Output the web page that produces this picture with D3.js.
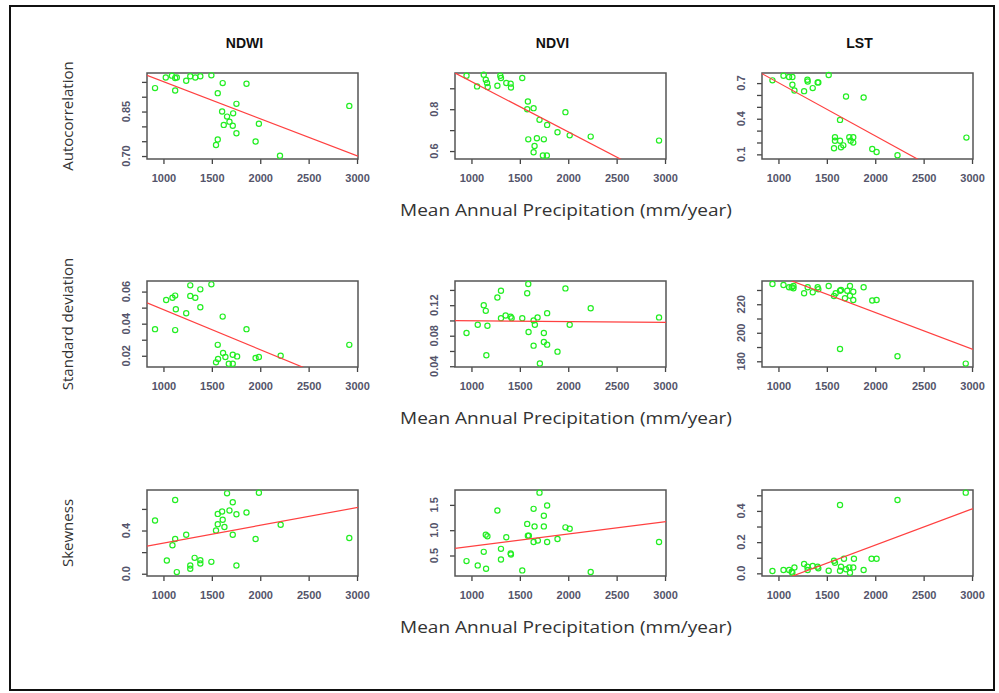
<!DOCTYPE html>
<html>
<head>
<meta charset="utf-8">
<script src="https://cdn.jsdelivr.net/npm/d3@7"></script>
<style>
  body { margin: 0; background: #fff; }
</style>
</head>
<body>
<script>
// * Data (precipitation mm/year, statistic)

const columns = ["NDWI", "NDVI", "LST"];
const rowLabels = ["Autocorrelation", "Standard deviation", "Skewness"];
const xTicks = [1000, 1500, 2000, 2500, 3000];

const ndwiAuto = [[913,0.929],[1024,0.965],[1087,0.971],[1121,0.963],[1138,0.965],[1121,0.921],[1235,0.954],[1277,0.969],[1329,0.965],[1381,0.969],[1495,0.972],[1612,0.946],[1561,0.912],[1858,0.944],[1754,0.876],[1606,0.850],[1657,0.833],[1720,0.844],[1682,0.816],[1623,0.805],[1716,0.802],[1986,0.809],[1754,0.777],[1561,0.756],[1543,0.737],[1952,0.749],[2204,0.701],[2920,0.869]];
const ndviAuto = [[949,0.96],[1058,0.909],[1127,0.965],[1148,0.941],[1161,0.925],[1168,0.906],[1268,0.912],[1298,0.96],[1305,0.949],[1360,0.925],[1405,0.922],[1408,0.904],[1525,0.949],[1583,0.837],[1576,0.80],[1642,0.805],[1703,0.749],[1782,0.725],[1971,0.786],[1889,0.69],[2015,0.675],[2232,0.669],[2938,0.65],[1587,0.656],[1676,0.661],[1748,0.656],[1652,0.624],[1642,0.594],[1738,0.579],[1779,0.579]];
const lstAuto = [[938,0.723],[1052,0.762],[1110,0.751],[1144,0.751],[1144,0.686],[1165,0.638],[1265,0.632],[1299,0.728],[1302,0.714],[1354,0.658],[1405,0.706],[1412,0.706],[1519,0.768],[1698,0.587],[1880,0.579],[1636,0.39],[1584,0.244],[1584,0.215],[1636,0.215],[1574,0.151],[1646,0.159],[1670,0.176],[1732,0.244],[1773,0.244],[1746,0.215],[1773,0.199],[1969,0.145],[2014,0.12],[2230,0.092],[2942,0.241]];

const ndwiSd = [[913,0.0366],[1028,0.0548],[1093,0.0562],[1121,0.0575],[1128,0.049],[1121,0.036],[1235,0.0465],[1277,0.0639],[1277,0.0573],[1329,0.0562],[1381,0.0614],[1381,0.0502],[1495,0.0645],[1612,0.0444],[1858,0.0366],[1561,0.0268],[1616,0.0217],[1640,0.0192],[1564,0.018],[1543,0.0159],[1675,0.015],[1716,0.015],[1716,0.0206],[1761,0.0196],[1952,0.0186],[1986,0.0192],[2211,0.020],[2920,0.0268]];
const ndviSd = [[949,0.0835],[1065,0.0943],[1127,0.120],[1148,0.1126],[1165,0.093],[1154,0.0543],[1268,0.130],[1305,0.139],[1305,0.103],[1353,0.1065],[1405,0.105],[1415,0.103],[1525,0.103],[1576,0.1357],[1587,0.1478],[1590,0.0848],[1642,0.100],[1655,0.0943],[1683,0.104],[1642,0.067],[1707,0.0435],[1748,0.0835],[1748,0.0717],[1782,0.0683],[1782,0.1096],[1889,0.0591],[1971,0.142],[2015,0.0943],[2232,0.116],[2938,0.104]];
const lstSd = [[938,234.2],[1052,233.5],[1110,231.9],[1137,231.9],[1155,232.8],[1155,231.2],[1265,227.7],[1302,231.9],[1354,228.4],[1405,231.9],[1412,230.5],[1519,232.8],[1574,225.8],[1591,227.7],[1636,229.5],[1646,230.0],[1687,224.2],[1711,229.5],[1739,232.8],[1739,226.0],[1773,228.8],[1773,223.0],[1880,231.9],[1969,222.6],[2014,223.0],[1636,188.6],[2230,183.5],[2935,178.4]];

const ndwiSkew = [[913,0.493],[1035,0.1225],[1093,0.263],[1121,0.322],[1121,0.683],[1138,0.0153],[1235,0.361],[1277,0.0766],[1277,0.046],[1322,0.147],[1381,0.1256],[1381,0.095],[1495,0.110],[1543,0.401],[1561,0.554],[1561,0.459],[1606,0.576],[1612,0.499],[1630,0.432],[1657,0.744],[1682,0.585],[1716,0.661],[1716,0.361],[1754,0.551],[1754,0.0766],[1858,0.567],[1952,0.322],[1986,0.750],[2211,0.453],[2920,0.331]];
const ndviSkew = [[949,0.389],[1065,0.304],[1127,0.572],[1148,0.912],[1165,0.879],[1151,0.239],[1268,1.389],[1305,0.631],[1305,0.422],[1360,0.86],[1405,0.539],[1408,0.52],[1525,0.206],[1576,1.124],[1583,0.892],[1593,0.892],[1642,1.422],[1652,1.075],[1642,0.768],[1686,0.794],[1703,1.742],[1748,1.284],[1748,1.075],[1782,1.487],[1782,0.768],[1889,0.827],[1971,1.056],[2015,1.029],[2232,0.173],[2938,0.768]];
const lstSkew = [[938,0.015],[1052,0.021],[1110,0.021],[1137,0.011],[1144,0.004],[1165,0.038],[1265,0.060],[1299,0.043],[1302,0.021],[1354,0.047],[1405,0.043],[1412,0.032],[1519,0.017],[1574,0.081],[1584,0.068],[1636,0.438],[1646,0.043],[1636,0.017],[1677,0.094],[1698,0.026],[1732,0.038],[1739,0.004],[1773,0.038],[1780,0.094],[1880,0.021],[1962,0.094],[2014,0.094],[2230,0.470],[2935,0.517]];

// fitted lines: [intercept, slope]
const fits = [
	[1.076, -1.2506e-4], [1.173, -2.407e-4], [1.151, -4.476e-4],
	[0.0736, -2.489e-5], [0.1005, -1.02e-6], [265.5, -0.02564],
	[0.1198, 1.642e-4], [0.441, 2.42e-4], [-0.283, 2.32e-4]
];

// y domain, tick positions, labelled ticks for each panel
const yDomains = [[0.690,0.980],[0.562,0.973],[0.061,0.785],[0.013,0.0666],[0.039,0.1517],[176.0,236.3],[-0.021,0.775],[0.095,1.794],[-0.017,0.534]];
const yTicks = [
	[0.70,0.75,0.80,0.85,0.90,0.95], [0.6,0.7,0.8,0.9], [0.1,0.2,0.3,0.4,0.5,0.6,0.7],
	[0.02,0.03,0.04,0.05,0.06], [0.04,0.06,0.08,0.10,0.12,0.14], [180,190,200,210,220,230],
	[0.0,0.2,0.4,0.6], [0.5,1.0,1.5], [0.0,0.1,0.2,0.3,0.4,0.5]
];
const yLabels = [
	["0.70","0.85"], ["0.6","0.8"], ["0.1","0.4","0.7"],
	["0.02","0.04","0.06"], ["0.04","0.08","0.12"], ["180","200","220"],
	["0.0","0.4"], ["0.5","1.0","1.5"], ["0.0","0.2","0.4"]
];

const panelData = [ndwiAuto, ndviAuto, lstAuto, ndwiSd, ndviSd, lstSd, ndwiSkew, ndviSkew, lstSkew];

// * Size & layout

let width = 999;
let height = 693;
const colLeft = [147, 455, 762];
const rowTop = [73, 281, 490];
const boxW = 211;
const boxH = 86;

var svg = d3
	.select("body")
	.append("svg")
	.attr("width", width)
	.attr("height", height);

svg.append("rect")
	.attr("x", 10).attr("y", 6)
	.attr("width", 984).attr("height", 684)
	.attr("fill", "#fff")
	.attr("stroke", "#111")
	.attr("stroke-width", 2);

// * Column titles
svg.selectAll(".coltitle")
	.data(columns)
	.join("text")
	.attr("x", (d, i) => colLeft[i] + boxW / 2 - 8)
	.attr("y", 48)
	.attr("text-anchor", "middle")
	.attr("font-family", "'Liberation Sans Narrow', 'Liberation Sans', sans-serif")
	.attr("font-weight", "bold")
	.attr("font-size", "14px")
	.attr("fill", "#111")
	.text((d) => d);

// * Row labels & x titles
rowLabels.forEach((lab, r) => {
	const cy = rowTop[r] + boxH / 2;
	svg.append("text")
		.attr("transform", `translate(73,${cy}) rotate(-90)`)
		.attr("text-anchor", "middle")
		.attr("font-family", "'Open Sans', sans-serif")
		.attr("font-size", "15px")
		.attr("fill", "#333")
		.text(lab);

	svg.append("text")
		.attr("x", 566)
		.attr("y", rowTop[r] + boxH + 57)
		.attr("text-anchor", "middle")
		.attr("font-family", "'Open Sans', sans-serif")
		.attr("font-size", "17px")
		.attr("textLength", 332)
		.attr("lengthAdjust", "spacingAndGlyphs")
		.attr("fill", "#333")
		.text("Mean Annual Precipitation (mm/year)");
});

// * PLOT each panel
panelData.forEach((pts, k) => {
	const r = Math.floor(k / 3);
	const c = k % 3;
	const x0 = colLeft[c];
	const y0 = rowTop[r];

	const xScale = d3.scaleLinear().domain([830, 3010]).range([x0, x0 + boxW]);
	const yScale = d3.scaleLinear().domain(yDomains[k]).range([y0 + boxH, y0]);

	const g = svg.append("g");

	// clip for regression line
	const clipId = "clip" + k;
	g.append("clipPath").attr("id", clipId)
		.append("rect")
		.attr("x", x0).attr("y", y0)
		.attr("width", boxW).attr("height", boxH);

	// x axis
	const xAxis = g.append("g")
		.attr("transform", `translate(0,${y0 + boxH})`)
		.call(d3.axisBottom(xScale).tickValues(xTicks).tickSize(5).tickPadding(10).tickFormat(d3.format("d")));
	xAxis.select(".domain").remove();

	// y axis
	const yAxis = g.append("g")
		.attr("transform", `translate(${x0},0)`)
		.call(d3.axisLeft(yScale).tickValues(yTicks[k]).tickSize(5).tickFormat(""));
	yAxis.select(".domain").remove();

	[xAxis, yAxis].forEach((ax) => {
		ax.selectAll("line").attr("stroke", "#444").attr("stroke-width", 1.3);
		ax.selectAll("text")
			.attr("font-family", "'Liberation Sans', sans-serif")
			.attr("font-size", "11px")
			.attr("font-weight", "bold")
			.attr("fill", "#54546a");
	});

	// y tick labels, rotated
	g.selectAll(".ylab")
		.data(yLabels[k])
		.join("text")
		.attr("transform", (d) => `translate(${x0 - 17},${yScale(+d)}) rotate(-90)`)
		.attr("text-anchor", "middle")
		.attr("font-family", "'Liberation Sans', sans-serif")
		.attr("font-size", "11px")
		.attr("font-weight", "bold")
		.attr("fill", "#54546a")
		.text((d) => d);

	// box
	g.append("rect")
		.attr("x", x0).attr("y", y0)
		.attr("width", boxW).attr("height", boxH)
		.attr("fill", "none")
		.attr("stroke", "#555")
		.attr("stroke-width", 1.5);

	// points
	g.selectAll("circle")
		.data(pts)
		.join("circle")
		.attr("cx", (d) => xScale(d[0]))
		.attr("cy", (d) => yScale(d[1]))
		.attr("r", 2.6)
		.attr("fill", "none")
		.attr("stroke", "#22ee22")
		.attr("stroke-width", 1.2);

	// regression line
	const [a, b] = fits[k];
	g.append("line")
		.attr("clip-path", `url(#${clipId})`)
		.attr("x1", xScale(830)).attr("y1", yScale(a + b * 830))
		.attr("x2", xScale(3010)).attr("y2", yScale(a + b * 3010))
		.attr("stroke", "#ff4040")
		.attr("stroke-width", 1.2);
});
</script>
</body>
</html>
